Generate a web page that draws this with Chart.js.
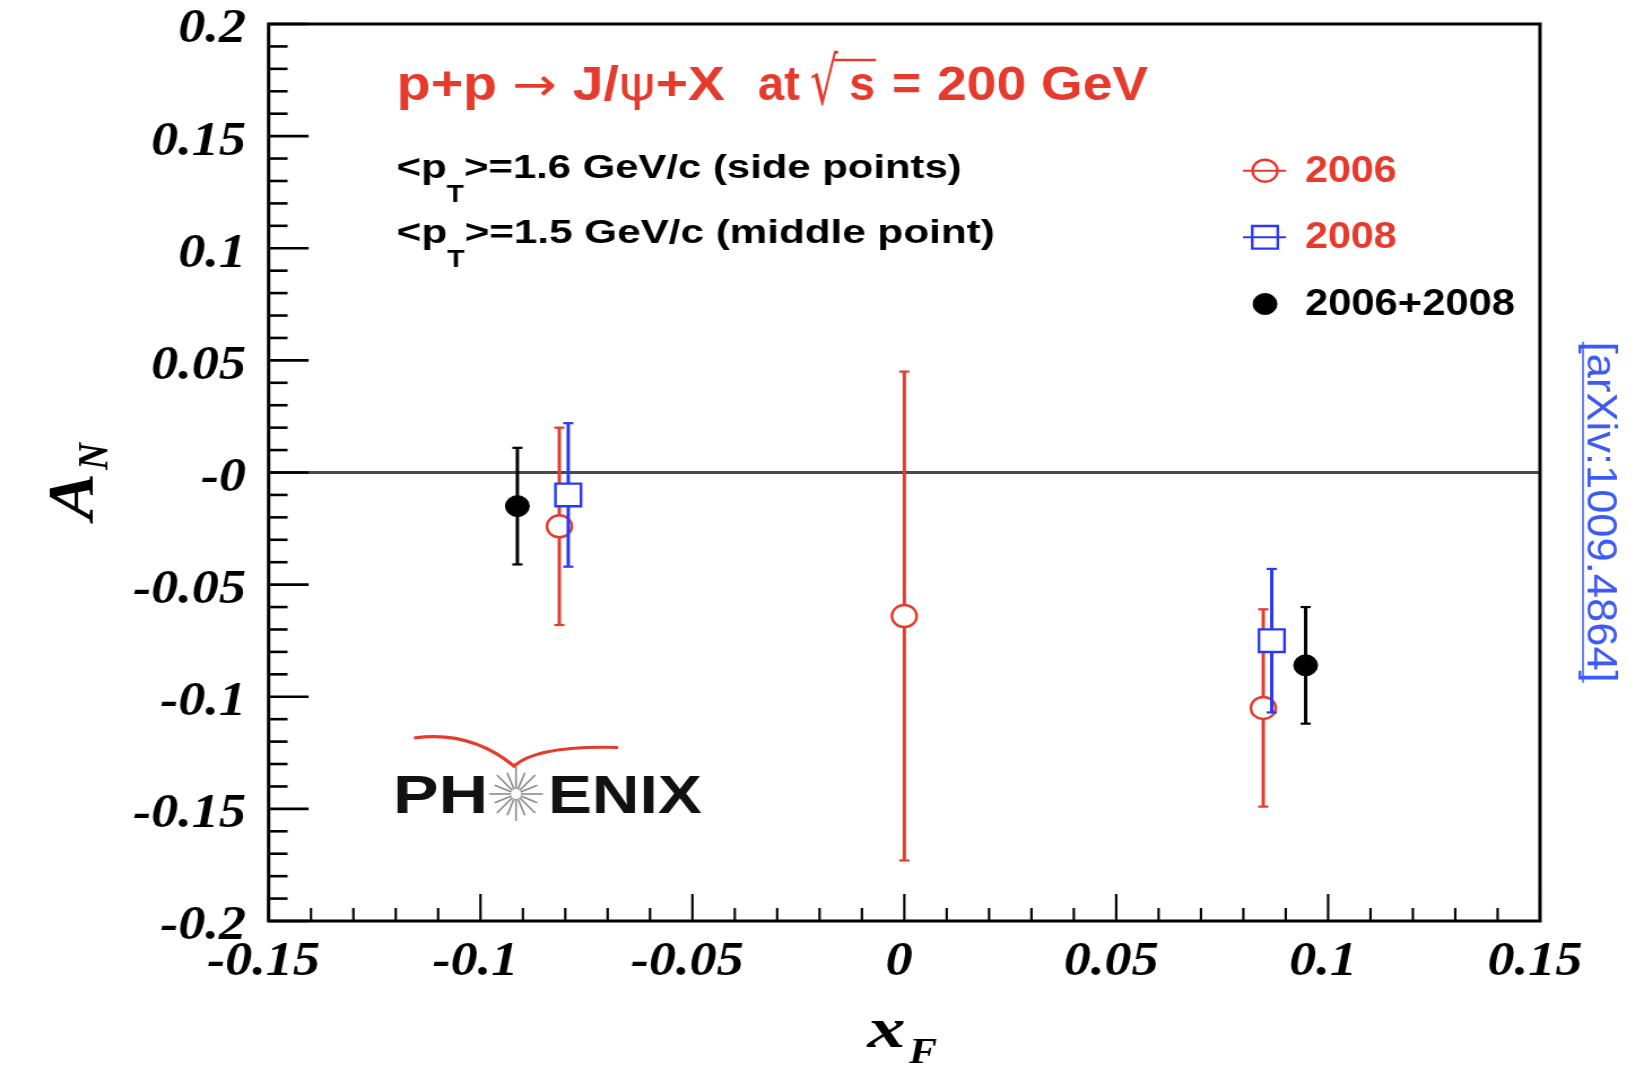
<!DOCTYPE html>
<html>
<head>
<meta charset="utf-8">
<title>J/psi A_N vs x_F</title>
<script src="https://cdn.jsdelivr.net/npm/chart.js@4.4.1/dist/chart.umd.min.js"></script>
<style>
  html, body { margin: 0; padding: 0; background: #fff; overflow: hidden; }
  #wrap { position: absolute; left: 0; top: 0; transform-origin: 0 0; }
  #chart { display: block; }
</style>
</head>
<body>
<div id="wrap"><canvas id="chart"></canvas></div>
<script>
// A_N measurements: x_F position, asymmetry, symmetric error
const xF2006 = [-0.0814, 0.0, 0.0847];
const aN2006 = [-0.024, -0.064, -0.105];
const err2006 = [0.044, 0.109, 0.044];

const xF2008 = [-0.0793, 0.0867];
const aN2008 = [-0.010, -0.075];
const err2008 = [0.032, 0.032];

const xFComb = [-0.0913, 0.0947];
const aNComb = [-0.015, -0.086];
const errComb = [0.026, 0.026];

const seriesNames = ['2006', '2008', '2006+2008'];

const xMajorTicks = [-0.15, -0.1, -0.05, 0, 0.05, 0.1, 0.15];
const xTickLabels = ['-0.15', '-0.1', '-0.05', '0', '0.05', '0.1', '0.15'];
const yMajorTicks = [-0.2, -0.15, -0.1, -0.05, 0, 0.05, 0.1, 0.15, 0.2];
const yTickLabels = ['-0.2', '-0.15', '-0.1', '-0.05', '-0', '0.05', '0.1', '0.15', '0.2'];

// the figure is drawn on a narrower canvas and widened with css
const W = 1455;
const H = 1066;
const SX = 1644 / W;
const ux = v => v / SX;
const PLOT = { left: ux(268.6), right: ux(1540), top: 24, bottom: 921 };

const RED = '#e63a2c';
const BLUE = '#2b3af0';
const BLACK = '#000';
const LINK = '#3c5af8';

const SANS = '"Liberation Sans", Arial, sans-serif';
const SERIF = '"Liberation Serif", "Times New Roman", serif';

function points(xs, ys) {
  return xs.map((x, i) => ({ x: x, y: ys[i] }));
}

function tickLabel(value, majors, labels) {
  const i = majors.findIndex(m => Math.abs(m - value) < 1e-6);
  return i < 0 ? '' : labels[i];
}

function isMajor(value, majors) {
  return majors.some(m => Math.abs(m - value) < 1e-6);
}

// draws a run of text pieces squeezed or stretched to a given width
function rich(ctx, parts, x, y, width, color) {
  ctx.save();
  ctx.fillStyle = color;
  ctx.textBaseline = 'alphabetic';
  ctx.textAlign = 'left';
  let total = 0;
  const widths = parts.map(p => {
    ctx.font = p.f;
    const w = ctx.measureText(p.t).width;
    total += w;
    return w;
  });
  ctx.translate(x, y);
  if (width) ctx.scale(width / total, 1);
  let cx = 0;
  parts.forEach((p, i) => {
    ctx.font = p.f;
    ctx.fillText(p.t, cx, p.dy || 0);
    cx += widths[i];
  });
  ctx.restore();
}

function fitText(ctx, text, x, y, width, font, color) {
  rich(ctx, [{ t: text, f: font }], x, y, width, color);
}

function line(ctx, x1, y1, x2, y2) {
  ctx.beginPath();
  ctx.moveTo(x1, y1);
  ctx.lineTo(x2, y2);
  ctx.stroke();
}

const errorBars = {
  id: 'errorBars',
  beforeDatasetDraw(chart, args) {
    const ds = chart.data.datasets[args.index];
    const yScale = chart.scales.y;
    const ctx = chart.ctx;
    ctx.save();
    ctx.strokeStyle = ds.borderColor;
    args.meta.data.forEach((pt, j) => {
      const v = ds.data[j].y;
      const e = ds.errors[j];
      const top = yScale.getPixelForValue(v + e);
      const bot = yScale.getPixelForValue(v - e);
      ctx.lineWidth = 3;
      line(ctx, pt.x, top, pt.x, bot);
      ctx.lineWidth = 2.2;
      line(ctx, pt.x - 4.5, top, pt.x + 4.5, top);
      line(ctx, pt.x - 4.5, bot, pt.x + 4.5, bot);
    });
    ctx.restore();
  }
};

const decorations = {
  id: 'decorations',
  beforeDraw(chart) {
    const ctx = chart.ctx;
    ctx.save();
    ctx.fillStyle = '#fff';
    ctx.fillRect(0, 0, chart.width, chart.height);
    ctx.restore();
  },
  beforeDatasetsDraw(chart) {
    // horizontal line at A_N = 0
    const ctx = chart.ctx;
    const a = chart.chartArea;
    const y0 = chart.scales.y.getPixelForValue(0);
    ctx.save();
    ctx.strokeStyle = '#4a4a4a';
    ctx.lineWidth = 3;
    line(ctx, a.left, y0, a.right, y0);
    ctx.restore();
  },
  afterDraw(chart) {
    const ctx = chart.ctx;
    const a = chart.chartArea;
    const xs = chart.scales.x;
    const ys = chart.scales.y;
    ctx.save();
    ctx.strokeStyle = BLACK;

    // inward tick marks
    ctx.lineWidth = 2.6;
    ys.ticks.forEach(t => {
      const py = ys.getPixelForValue(t.value);
      const len = isMajor(t.value, yMajorTicks) ? ux(40) : ux(19);
      line(ctx, a.left, py, a.left + len, py);
    });
    ctx.lineWidth = ux(2.4);
    xs.ticks.forEach(t => {
      const px = xs.getPixelForValue(t.value);
      const len = isMajor(t.value, xMajorTicks) ? 27 : 13;
      line(ctx, px, a.bottom, px, a.bottom - len);
    });

    // frame
    ctx.lineWidth = 3;
    ctx.strokeRect(a.left, a.top, a.right - a.left, a.bottom - a.top);
    ctx.restore();

    // axis titles
    const bi = size => 'italic bold ' + size + 'px ' + SERIF;
    fitText(ctx, 'x', ux(867.6), 1046.7, ux(38), bi(58), BLACK);
    fitText(ctx, 'F', ux(909), 1063, ux(28), bi(35), BLACK);

    ctx.save();
    ctx.translate(ux(93), 520);
    ctx.rotate(-Math.PI / 2);
    fitText(ctx, 'A', 0, 0, 47, bi(58), BLACK);
    fitText(ctx, 'N', 50, ux(14), 27, bi(38), BLACK);
    ctx.restore();

    // reaction label
    const b48 = 'bold 48px ' + SANS;
    rich(ctx, [
      { t: 'p+p ', f: b48 },
      { t: '\u2192', f: '46px "DejaVu Sans"' },
      { t: ' J/', f: b48 },
      { t: '\u03C8', f: '48px "DejaVu Sans"' },
      { t: '+X', f: b48 }
    ], ux(396.7), 100, ux(328.3), RED);
    fitText(ctx, 'at', ux(758), 100, ux(42), b48, RED);
    fitText(ctx, '\u221A', ux(810), 104, ux(28), '66px "DejaVu Sans"', RED);
    ctx.save();
    ctx.strokeStyle = RED;
    ctx.lineWidth = 2.5;
    line(ctx, ux(834), 60, ux(876), 60);
    ctx.restore();
    fitText(ctx, 's', ux(849), 100, ux(26), b48, RED);
    fitText(ctx, '=', ux(892), 100, ux(29), b48, RED);
    fitText(ctx, '200 GeV', ux(937), 100, ux(211), b48, RED);

    // mean transverse momentum notes
    const b34 = 'bold 34px ' + SANS;
    const b23 = 'bold 23px ' + SANS;
    rich(ctx, [
      { t: '<p', f: b34 },
      { t: 'T', f: b23, dy: 24 },
      { t: '>=1.6 GeV/c (side points)', f: b34 }
    ], ux(396.7), 178, ux(565), BLACK);
    rich(ctx, [
      { t: '<p', f: b34 },
      { t: 'T', f: b23, dy: 24 },
      { t: '>=1.5 GeV/c (middle point)', f: b34 }
    ], ux(396.7), 243, ux(598), BLACK);

    // legend
    const sets = chart.data.datasets;
    const b36 = 'bold 36px ' + SANS;
    const mx = ux(1265);
    const rows = [170.7, 237.3, 304];
    const textBase = [181.7, 248, 315];
    const textW = [91.7, 91.7, 210];
    const textCol = [RED, RED, BLACK];
    sets.forEach((ds, i) => {
      const my = rows[i];
      ctx.save();
      ctx.strokeStyle = ds.borderColor;
      ctx.fillStyle = ds.backgroundColor;
      ctx.lineWidth = ds.borderWidth;
      ctx.beginPath();
      if (ds.pointStyle === 'rect') {
        const s = ds.pointRadius * Math.SQRT1_2;
        ctx.rect(mx - s, my - s, 2 * s, 2 * s);
      } else {
        ctx.arc(mx, my, ds.pointRadius, 0, Math.PI * 2);
      }
      ctx.fill();
      ctx.stroke();
      if (ds.backgroundColor === '#fff') {
        ctx.lineWidth = 2;
        line(ctx, ux(1243), my, ux(1286), my);
      }
      ctx.restore();
      fitText(ctx, seriesNames[i], ux(1305), textBase[i], ux(textW[i]), b36, textCol[i]);
    });

    // experiment logo
    const b54 = 'bold 54px ' + SANS;
    fitText(ctx, 'PH', ux(393), 813, ux(95), b54, '#111');
    fitText(ctx, 'ENIX', ux(548), 813, ux(153.7), b54, '#111');
    ctx.save();
    ctx.strokeStyle = '#8c8c8c';
    ctx.lineWidth = 1.6;
    const cx = ux(516), cy = 794;
    for (let k = 0; k < 16; k++) {
      const ang = k * Math.PI / 8;
      const r2 = k % 2 ? 23 : 27;
      line(ctx, cx + ux(5 * Math.cos(ang)), cy + 5 * Math.sin(ang),
        cx + ux(r2 * Math.cos(ang)), cy + r2 * Math.sin(ang));
    }
    ctx.strokeStyle = RED;
    ctx.lineWidth = 3.2;
    ctx.beginPath();
    ctx.moveTo(ux(414), 738);
    ctx.quadraticCurveTo(ux(470), 730, ux(514), 766);
    ctx.quadraticCurveTo(ux(538), 745, ux(618), 747.5);
    ctx.stroke();
    ctx.restore();

    // preprint reference along the right edge
    ctx.save();
    ctx.translate(ux(1588), 341.7);
    ctx.rotate(Math.PI / 2);
    fitText(ctx, '[arXiv:1009.4864]', 0, 0, 341, '36px ' + SANS, LINK);
    ctx.strokeStyle = LINK;
    ctx.lineWidth = 1.5;
    line(ctx, 0, ux(5), 341, ux(5));
    ctx.restore();
  }
};

const canvas = document.getElementById('chart');
canvas.width = W;
canvas.height = H;
canvas.style.width = W + 'px';
canvas.style.height = H + 'px';
const wrap = document.getElementById('wrap');
wrap.style.width = W + 'px';
wrap.style.height = H + 'px';
wrap.style.transform = 'scaleX(' + SX + ')';

const tickFont = { family: SERIF, size: 48, style: 'italic', weight: 'bold' };

new Chart(canvas, {
  type: 'scatter',
  data: {
    datasets: [
      {
        label: seriesNames[0],
        data: points(xF2006, aN2006),
        errors: err2006,
        order: 3,
        pointStyle: 'circle',
        pointRadius: 11,
        borderWidth: 2.4,
        borderColor: RED,
        backgroundColor: '#fff'
      },
      {
        label: seriesNames[1],
        data: points(xF2008, aN2008),
        errors: err2008,
        order: 2,
        pointStyle: 'rect',
        pointRadius: 16,
        borderWidth: 2.4,
        borderColor: BLUE,
        backgroundColor: '#fff'
      },
      {
        label: seriesNames[2],
        data: points(xFComb, aNComb),
        errors: errComb,
        order: 1,
        pointStyle: 'circle',
        pointRadius: 10.5,
        borderWidth: 1,
        borderColor: BLACK,
        backgroundColor: BLACK
      }
    ]
  },
  options: {
    responsive: false,
    animation: false,
    events: [],
    layout: { padding: { top: PLOT.top, right: W - PLOT.right, left: 0, bottom: 0 } },
    plugins: {
      legend: { display: false },
      tooltip: { enabled: false },
      title: { display: false }
    },
    scales: {
      x: {
        type: 'linear',
        min: -0.15,
        max: 0.15,
        grid: { display: false, drawTicks: false },
        border: { display: false },
        ticks: {
          stepSize: 0.01,
          autoSkip: false,
          maxRotation: 0,
          padding: 13,
          labelOffset: -4.5,
          color: BLACK,
          font: tickFont,
          callback: v => tickLabel(v, xMajorTicks, xTickLabels)
        },
        afterFit(scale) {
          scale.height = H - PLOT.bottom;
          scale.paddingLeft = 0;
          scale.paddingRight = 0;
        }
      },
      y: {
        type: 'linear',
        min: -0.2,
        max: 0.2,
        grid: { display: false, drawTicks: false },
        border: { display: false },
        ticks: {
          stepSize: 0.01,
          autoSkip: false,
          padding: 20,
          labelOffset: 6,
          color: BLACK,
          font: tickFont,
          callback: v => tickLabel(v, yMajorTicks, yTickLabels)
        },
        afterFit(scale) {
          scale.width = PLOT.left;
          scale.paddingTop = 0;
          scale.paddingBottom = 0;
        }
      }
    }
  },
  plugins: [errorBars, decorations]
});
</script>
</body>
</html>
